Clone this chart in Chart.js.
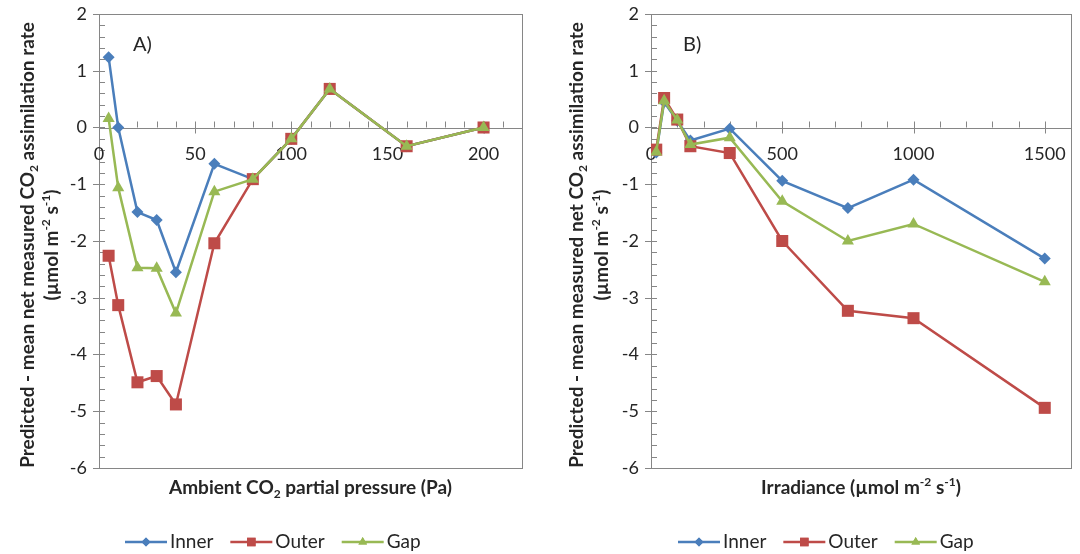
<!DOCTYPE html>
<html>
<head>
<meta charset="utf-8">
<script src="https://cdn.jsdelivr.net/npm/chart.js@4.4.1/dist/chart.umd.min.js"></script>
<style>
  body { margin: 0; background: #fff; width: 1080px; height: 554px; overflow: hidden; }
  .box { position: absolute; top: 0; width: 540px; height: 554px; }
</style>
</head>
<body>
<div class="box" style="left:0"><canvas id="chartA"></canvas></div>
<div class="box" style="left:540px"><canvas id="chartB"></canvas></div>
<script>
// panel A: ambient CO2 partial pressure (Pa)
const pressure = [5, 10, 20, 30, 40, 60, 80, 100, 120, 160, 200];
const innerCO2 = [1.24, 0, -1.49, -1.63, -2.55, -0.64, -0.91, -0.2, 0.68, -0.33, 0];
const outerCO2 = [-2.26, -3.13, -4.49, -4.38, -4.88, -2.04, -0.91, -0.2, 0.68, -0.33, 0];
const gapCO2 = [0.16, -1.06, -2.47, -2.48, -3.27, -1.13, -0.91, -0.2, 0.68, -0.33, 0];

// panel B: irradiance (umol m-2 s-1)
const irradiance = [20, 50, 100, 150, 300, 500, 750, 1000, 1500];
const innerLight = [-0.44, 0.45, 0.12, -0.23, -0.02, -0.94, -1.42, -0.92, -2.31];
const outerLight = [-0.39, 0.52, 0.14, -0.33, -0.45, -2.0, -3.23, -3.36, -4.94];
const gapLight = [-0.43, 0.47, 0.13, -0.3, -0.18, -1.3, -2.0, -1.7, -2.72];

const seriesNames = ['Inner', 'Outer', 'Gap'];
const yTicks = [2, 1, 0, -1, -2, -3, -4, -5, -6];
const xTicksA = [0, 50, 100, 150, 200];
const xTicksB = [0, 500, 1000, 1500];

const FONT = 'Lato, "Open Sans", sans-serif';
const TEXT = '#262626';
const AXIS = '#868686';
const COLORS = ['#4A7EBB', '#BE4B48', '#98B954'];
const MARKERS = ['rectRot', 'rect', 'triangle'];
const RADII = [6, 8.5, 7];
const LEGEND_RADII = [4.5, 6, 5];

function toPoints(xs, ys) {
  return xs.map((x, i) => ({ x, y: ys[i] }));
}

function makeDatasets(xs, lists) {
  return lists.map((ys, i) => ({
    label: seriesNames[i],
    data: toPoints(xs, ys),
    borderColor: COLORS[i],
    backgroundColor: COLORS[i],
    borderWidth: 2.5,
    pointStyle: MARKERS[i],
    pointRadius: RADII[i],
    pointBorderWidth: 0,
    tension: 0,
    order: 2 - i
  }));
}

// text with sub/superscripts: parts = [[text, ''|'sub'|'sup'], ...]
function partFont(kind, size, bold) {
  const s = kind ? Math.round(size * 0.65) : size;
  return (bold ? 'bold ' : '') + s + 'px ' + FONT;
}
function richWidth(ctx, parts, size, bold) {
  let w = 0;
  parts.forEach(([t, k]) => { ctx.font = partFont(k, size, bold); w += ctx.measureText(t).width; });
  return w;
}
function drawRich(ctx, parts, cx, cy, size, bold) {
  let x = cx - richWidth(ctx, parts, size, bold) / 2;
  ctx.textAlign = 'left';
  ctx.textBaseline = 'middle';
  parts.forEach(([t, k]) => {
    ctx.font = partFont(k, size, bold);
    const dy = k === 'sub' ? size * 0.3 : k === 'sup' ? -size * 0.3 : 0;
    ctx.fillText(t, x, cy + dy);
    x += ctx.measureText(t).width;
  });
}

const excelAxes = {
  id: 'excelAxes',
  beforeDatasetsDraw(chart, args, opts) {
    const ctx = chart.ctx;
    const a = chart.chartArea;
    const xs = chart.scales.x, ys = chart.scales.y;
    const y0 = ys.getPixelForValue(0);
    const x0 = xs.getPixelForValue(0);
    ctx.save();
    ctx.fillStyle = TEXT;
    ctx.strokeStyle = AXIS;
    ctx.lineWidth = 1;
    // plot border
    ctx.strokeRect(Math.round(a.left) + 0.5, Math.round(a.top) + 0.5,
      Math.round(a.right - a.left), Math.round(a.bottom - a.top));
    // x axis line at y = 0
    ctx.beginPath();
    ctx.moveTo(a.left, Math.round(y0) + 0.5);
    ctx.lineTo(a.right, Math.round(y0) + 0.5);
    // y ticks
    for (let v = ys.min; v <= ys.max + 1e-6; v += 0.2) {
      const p = Math.round(ys.getPixelForValue(v)) + 0.5;
      const major = Math.abs(v - Math.round(v)) < 1e-6;
      ctx.moveTo(x0 - (major ? 6 : 0), p);
      ctx.lineTo(x0 + 6, p);
    }
    // x ticks
    for (let v = xs.min; v <= xs.max + 1e-6; v += opts.xMinor) {
      const p = Math.round(xs.getPixelForValue(v)) + 0.5;
      const major = Math.abs(v / opts.xMajor - Math.round(v / opts.xMajor)) < 1e-6;
      ctx.moveTo(p, y0 - 6);
      ctx.lineTo(p, y0 + (major ? 6 : 0));
    }
    ctx.stroke();

    // tick labels
    ctx.font = '18px ' + FONT;
    ctx.textAlign = 'right';
    ctx.textBaseline = 'middle';
    yTicks.forEach(v => ctx.fillText(String(v), x0 - 12, ys.getPixelForValue(v)));
    ctx.textAlign = 'center';
    opts.xTicks.forEach(v => ctx.fillText(String(v), xs.getPixelForValue(v), y0 + 27));

    // panel label
    ctx.font = '20px ' + FONT;
    ctx.textAlign = 'left';
    ctx.fillText(opts.panel, opts.panelX, 45);

    // axis titles
    const midX = (a.left + a.right) / 2;
    drawRich(ctx, opts.xTitle, midX, 488, 19, true);
    const midY = (a.top + a.bottom) / 2 + 4;
    opts.yTitle.forEach((line, i) => {
      ctx.save();
      ctx.translate(opts.yTitleX[i], midY);
      ctx.rotate(-Math.PI / 2);
      drawRich(ctx, line, 0, 0, 19, true);
      ctx.restore();
    });

    // legend: line with marker, then name
    ctx.font = '19px ' + FONT;
    let lx = opts.legendX;
    const ly = 542;
    chart.data.datasets.forEach((ds, i) => {
      ctx.strokeStyle = ds.borderColor;
      ctx.lineWidth = 2.5;
      ctx.beginPath();
      ctx.moveTo(lx, ly);
      ctx.lineTo(lx + 42, ly);
      ctx.stroke();
      ctx.fillStyle = ds.borderColor;
      ctx.beginPath();
      Chart.helpers.drawPoint(ctx, { pointStyle: ds.pointStyle, radius: LEGEND_RADII[i], borderWidth: 0 }, lx + 21, ly);
      ctx.fill();
      ctx.fillStyle = TEXT;
      ctx.textAlign = 'left';
      ctx.textBaseline = 'middle';
      ctx.fillText(ds.label, lx + 45, ly);
      lx += 45 + ctx.measureText(ds.label).width + 17;
    });
    ctx.restore();
  }
};

function makeChart(id, xs, lists, xMax, pad, plugOpts) {
  return new Chart(document.getElementById(id), {
    type: 'line',
    data: { datasets: makeDatasets(xs, lists) },
    plugins: [excelAxes],
    options: {
      responsive: true,
      maintainAspectRatio: false,
      animation: false,
      layout: { padding: pad },
      scales: {
        x: { type: 'linear', min: 0, max: xMax, display: false },
        y: { type: 'linear', min: -6, max: 2, display: false }
      },
      plugins: {
        legend: { display: false },
        tooltip: { enabled: false },
        excelAxes: plugOpts
      }
    }
  });
}

makeChart('chartA', pressure, [innerCO2, outerCO2, gapCO2], 220,
  { left: 99, right: 18, top: 14, bottom: 86 },
  {
    xTicks: xTicksA, xMajor: 50, xMinor: 10,
    panel: 'A)', panelX: 133, legendX: 125,
    xTitle: [['Ambient CO', ''], ['2', 'sub'], [' partial pressure (Pa)', '']],
    yTitle: [
      [['Predicted - mean net measured CO', ''], ['2', 'sub'], [' assimilation rate', '']],
      [['(µmol m', ''], ['-2', 'sup'], [' s', ''], ['-1', 'sup'], [')', '']]
    ],
    yTitleX: [28, 52]
  });

makeChart('chartB', irradiance, [innerLight, outerLight, gapLight], 1600,
  { left: 111, right: 9, top: 14, bottom: 86 },
  {
    xTicks: xTicksB, xMajor: 500, xMinor: 100,
    panel: 'B)', panelX: 143, legendX: 138,
    xTitle: [['Irradiance (µmol m', ''], ['-2', 'sup'], [' s', ''], ['-1', 'sup'], [')', '']],
    yTitle: [
      [['Predicted - mean measured net CO', ''], ['2', 'sub'], [' assimilation rate', '']],
      [['(µmol m', ''], ['-2', 'sup'], [' s', ''], ['-1', 'sup'], [')', '']]
    ],
    yTitleX: [37, 62]
  });
</script>
</body>
</html>
